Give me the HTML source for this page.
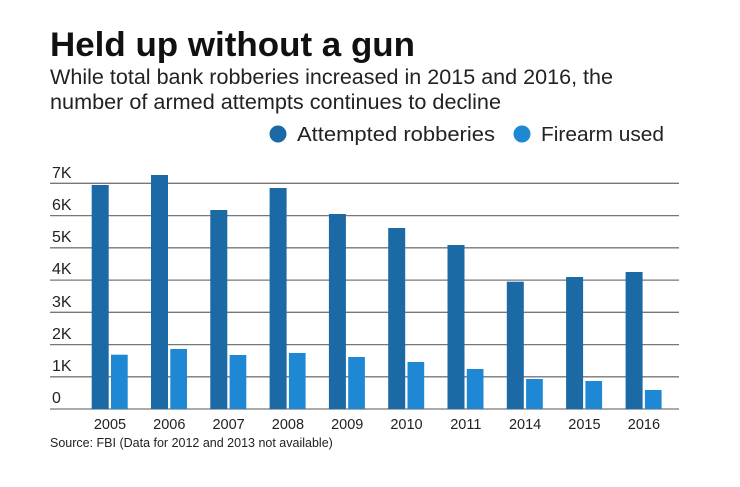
<!DOCTYPE html>
<html><head><meta charset="utf-8"><style>
body{margin:0;background:#fff;}
svg text{font-family:"Liberation Sans",sans-serif;}
</style></head><body>
<svg width="740" height="482" xmlns="http://www.w3.org/2000/svg">
<text x="50" y="56" font-size="34" font-weight="bold" fill="#111" textLength="365" lengthAdjust="spacingAndGlyphs">Held up without a gun</text>
<text x="50" y="84" font-size="21" fill="#222" textLength="563" lengthAdjust="spacingAndGlyphs">While total bank robberies increased in 2015 and 2016, the</text>
<text x="50" y="109" font-size="21" fill="#222" textLength="451" lengthAdjust="spacingAndGlyphs">number of armed attempts continues to decline</text>
<circle cx="278" cy="134" r="8.5" fill="#1b6aa5"/>
<text x="297" y="141" font-size="20.5" fill="#222" textLength="198" lengthAdjust="spacingAndGlyphs">Attempted robberies</text>
<circle cx="522" cy="134" r="8.5" fill="#1e88d4"/>
<text x="541" y="141" font-size="20.5" fill="#222" textLength="123" lengthAdjust="spacingAndGlyphs">Firearm used</text>
<g stroke="#777" stroke-width="1.3">
<line x1="50" x2="679" y1="183.3" y2="183.3"/>
<line x1="50" x2="679" y1="215.6" y2="215.6"/>
<line x1="50" x2="679" y1="247.8" y2="247.8"/>
<line x1="50" x2="679" y1="280.1" y2="280.1"/>
<line x1="50" x2="679" y1="312.3" y2="312.3"/>
<line x1="50" x2="679" y1="344.6" y2="344.6"/>
<line x1="50" x2="679" y1="376.8" y2="376.8"/>
<line x1="50" x2="679" y1="409" y2="409"/>
</g>
<g font-size="16" fill="#222">
<text x="52" y="178">7K</text><text x="52" y="210">6K</text><text x="52" y="242">5K</text>
<text x="52" y="274">4K</text><text x="52" y="307">3K</text><text x="52" y="339">2K</text>
<text x="52" y="371">1K</text><text x="52" y="403">0</text>
</g>
<g fill="#1b6aa5">
<rect x="91.7" y="185" width="17" height="224"/>
<rect x="151" y="175" width="17" height="234"/>
<rect x="210.3" y="210" width="17" height="199"/>
<rect x="269.6" y="188" width="17" height="221"/>
<rect x="328.9" y="214" width="17" height="195"/>
<rect x="388.2" y="228" width="17" height="181"/>
<rect x="447.5" y="245" width="17" height="164"/>
<rect x="506.8" y="281.7" width="17" height="127.3"/>
<rect x="566.1" y="277" width="17" height="132"/>
<rect x="625.6" y="272" width="17" height="137"/>
</g>
<g fill="#1e88d4">
<rect x="111" y="354.7" width="16.7" height="54.3"/>
<rect x="170.3" y="349" width="16.7" height="60"/>
<rect x="229.6" y="355" width="16.7" height="54"/>
<rect x="288.9" y="353" width="16.7" height="56"/>
<rect x="348.2" y="357" width="16.7" height="52"/>
<rect x="407.5" y="362" width="16.7" height="47"/>
<rect x="466.8" y="369" width="16.7" height="40"/>
<rect x="526.1" y="379" width="16.7" height="30"/>
<rect x="585.4" y="381" width="16.7" height="28"/>
<rect x="644.9" y="390" width="16.7" height="19"/>
</g>
<g font-size="14.5" fill="#222" text-anchor="middle">
<text x="110" y="429">2005</text><text x="169.3" y="429">2006</text><text x="228.6" y="429">2007</text>
<text x="287.9" y="429">2008</text><text x="347.2" y="429">2009</text><text x="406.5" y="429">2010</text>
<text x="465.8" y="429">2011</text><text x="525.1" y="429">2014</text><text x="584.4" y="429">2015</text>
<text x="643.9" y="429">2016</text>
</g>
<text x="50" y="447" font-size="12.5" fill="#222">Source: FBI (Data for 2012 and 2013 not available)</text>
</svg>
</body></html>
